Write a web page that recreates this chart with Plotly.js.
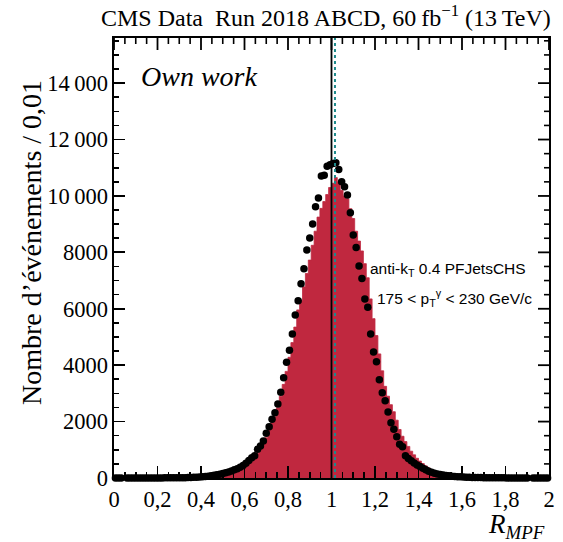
<!DOCTYPE html>
<html><head><meta charset="utf-8">
<script src="https://cdn.plot.ly/plotly-3.0.1.min.js"></script>
<style>body{margin:0;background:#fff}#plot{width:563px;height:542px}</style>
</head><body><div id="plot"></div>
<script>
// Binning of the histograms
const xMin = 0, xMax = 2, nBins = 150;
// Data (black points), counts per bin
const dataCounts = [3,1,1,0,1,1,1,1,2,2,2,2,3,3,3,4,4,5,5,6,
 6,7,8,10,12,15,19,23,28,35,
 42,52,65,78,95,115,135,160,185,215,
 250,290,330,380,440,520,620,719,790,1017,
 1134,1311,1584,1818,2080,2314,2622,3037,3555,4100,
 4525,5103,5777,6284,6886,7418,8080,8506,9002,9615,
 9923,10703,10738,11057,11104,11150,11175,10940,10500,10323,
 10030,9402,8612,8176,7513,7077,6344,6050,5103,4465,
 4122,3484,3024,2740,2339,1960,1725,1464,1194,1109,
 790,690,610,530,465,405,345,290,240,200,
 170,145,125,105,90,78,66,56,48,41,
 35,30,26,22,19,16,14,12,10,9,
 8,7,6,5,5,4,4,3,3,3,2,2,2,0,2,1,1,1,1,1];
// Simulation (red histogram), counts per bin
const mcCounts = [0,0,0,1,1,1,1,1,1,2,2,2,2,3,3,3,4,4,5,5,
 6,6,7,8,9,10,11,12,14,17,
 20,24,30,40,47,55,65,80,100,125,
 160,210,285,350,420,500,580,660,750,880,
 1040,1220,1430,1700,1960,2173,2490,2900,3320,3780,
 4280,4800,5350,5960,6300,6780,7250,7726,8250,8750,
 9250,9560,9800,10050,10300,10450,10650,10500,10200,10000,
 9900,9550,9200,8750,8400,8050,7600,7100,6350,5650,
 5050,4400,3800,3250,2900,2600,2350,2050,1720,1480,
 1290,1120,950,820,700,600,510,430,360,295,
 240,190,150,115,90,70,55,44,35,28,
 22,18,15,12,10,8,7,6,5,4,
 4,3,3,3,2,2,2,2,1,1,1,1,1,1,1,1,0,0,0,0];
const refLine = 1.0;      // black vertical line
const mcMeanLine = 1.016; // teal dotted line
const xTickVals = [0,0.2,0.4,0.6,0.8,1,1.2,1.4,1.6,1.8,2];
const xTickText = ['0','0,2','0,4','0,6','0,8','1','1,2','1,4','1,6','1,8','2'];
const yTickVals = [0,2000,4000,6000,8000,10000,12000,14000];
const yTickText = ['0','2000','4000','6000','8000','10\u2009000','12\u2009000','14\u2009000'];
const yMax = 15600;
const xMinorStep = 0.05, yMinorStep = 500;

const W = 563, H = 542, M = {l:114, r:14, t:38, b:64};
const plotW = W - M.l - M.r, plotH = H - M.t - M.b;

const bw = (xMax - xMin) / nBins;
const centers = dataCounts.map((_, i) => xMin + (i + 0.5) * bw);
const edges = mcCounts.map((_, i) => xMin + i * bw).concat([xMax]);
const stepY = mcCounts.concat([mcCounts[mcCounts.length - 1]]);

const serif = '"Liberation Serif", "DejaVu Serif", serif';
const sans = '"Liberation Sans", Arial, sans-serif';

const traces = [
  {type:'scatter', mode:'lines', x:edges, y:stepY, line:{shape:'hv', color:'#bf2a42', width:0.8},
   fill:'tozeroy', fillcolor:'#c0283f', hoverinfo:'skip'},
  {type:'scatter', mode:'markers', x:centers,
   y:dataCounts.map(v => v > 0 ? v : null),
   marker:{color:'#000', size:7.5}, cliponaxis:false}
];

const TW_MAJ = 1.8, TW_MIN = 1.6;
const axisCommon = {
  showline:true, linecolor:'#000', linewidth:1.6, mirror:true, layer:'above traces',
  ticks:'inside', tickcolor:'#000', tickwidth:TW_MAJ,
  showgrid:false, zeroline:false,
  tickfont:{family:serif, size:22.5, color:'#000'}
};
const xMinor = {tickmode:'linear', tick0:0, dtick:xMinorStep, ticklen:6, ticks:'inside', tickcolor:'#000', tickwidth:TW_MIN};
const yMinor = {tickmode:'linear', tick0:0, dtick:yMinorStep, ticklen:5, ticks:'inside', tickcolor:'#000', tickwidth:TW_MIN};

// Mirrored ticks on the top and right frame edges (ROOT style)
const mirrorShapes = [];
for (let k = 0; xMin + k * xMinorStep <= xMax + 1e-9; k++) {
  const v = +(xMin + k * xMinorStep).toFixed(4);
  const major = xTickVals.some(t => Math.abs(t - v) < 1e-6);
  const len = (major ? 12 : 6) / plotH;
  mirrorShapes.push({type:'line', layer:'above', xref:'x', yref:'paper',
    x0:v, x1:v, y0:1, y1:1 - len, line:{color:'#000', width:major ? TW_MAJ : TW_MIN}});
}
for (let k = 0; k * yMinorStep <= yMax; k++) {
  const v = k * yMinorStep;
  const major = yTickVals.includes(v);
  const len = (major ? 11 : 5) / plotW;
  mirrorShapes.push({type:'line', layer:'above', yref:'y', xref:'paper',
    y0:v, y1:v, x0:1, x1:1 - len, line:{color:'#000', width:major ? TW_MAJ : TW_MIN}});
}

const layout = {
  width:W, height:H,
  margin:M,
  paper_bgcolor:'#fff', plot_bgcolor:'#fff',
  showlegend:false,
  xaxis:Object.assign({}, axisCommon, {
    range:[xMin, xMax], tickmode:'array', tickvals:xTickVals, ticktext:xTickText,
    ticklen:12, minor:xMinor
  }),
  yaxis:Object.assign({}, axisCommon, {
    range:[0, yMax], tickmode:'array', tickvals:yTickVals, ticktext:yTickText,
    ticklen:11, minor:yMinor
  }),
  shapes:[
    {type:'line', xref:'x', yref:'paper', x0:refLine, x1:refLine, y0:0, y1:1,
     line:{color:'#000', width:1.8}},
    {type:'line', xref:'x', yref:'paper', x0:mcMeanLine, x1:mcMeanLine, y0:0, y1:1,
     line:{color:'#1e8a8c', width:2, dash:'dot'}}
  ].concat(mirrorShapes),
  annotations:[
    {xref:'paper', yref:'paper', x:1.01, y:1.012, xanchor:'right', yanchor:'bottom', showarrow:false,
     text:'CMS Data  Run 2018 ABCD, 60\u2009fb<sup>\u22121</sup> (13\u2009TeV)',
     font:{family:serif, size:24, color:'#000'}},
    {xref:'paper', yref:'paper', x:0.058, y:0.912, xanchor:'left', yanchor:'middle', showarrow:false,
     text:'<i>Own work</i>', font:{family:serif, size:28, color:'#000'}},
    {xref:'paper', yref:'paper', x:0.585, y:0.475, xanchor:'left', yanchor:'middle', showarrow:false,
     text:'anti-k<sub>T</sub> 0.4 PFJetsCHS', font:{family:sans, size:15.5, color:'#000'}},
    {xref:'paper', yref:'paper', x:0.6, y:0.41, xanchor:'left', yanchor:'middle', showarrow:false,
     text:'175 < p<sub>T</sub><sup>\u03b3</sup> < 230 GeV/c', font:{family:sans, size:15.5, color:'#000'}},
    {xref:'paper', yref:'paper', x:0.995, y:-0.108, xanchor:'right', yanchor:'middle', showarrow:false,
     text:'<i>R<sub>MPF</sub></i>', font:{family:serif, size:27, color:'#000'}},
    {xref:'paper', yref:'paper', x:-0.19, y:0.535, xanchor:'center', yanchor:'middle', showarrow:false,
     textangle:-90, text:'Nombre d\u2019\u00e9v\u00e9nements / 0,01', font:{family:serif, size:28, color:'#000'}}
  ]
};

Plotly.newPlot('plot', traces, layout, {displayModeBar:false, staticPlot:true});
</script>
</body></html>
